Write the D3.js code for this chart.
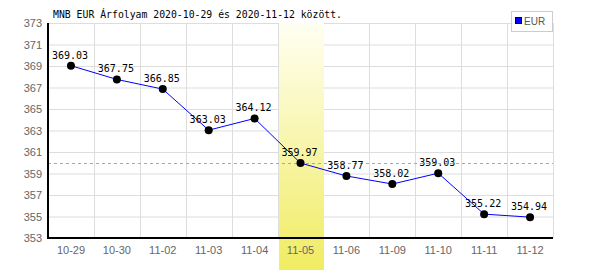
<!DOCTYPE html>
<html lang="hu">
<head>
<meta charset="UTF-8">
<script src="https://d3js.org/d3.v7.min.js"></script>
<style>
  body { margin: 0; background: #fff; }
  .tick text { font: 11px "Liberation Sans", sans-serif; fill: #666; }
  .lbl { font: 10px "DejaVu Sans Mono", monospace; fill: #000; }
  .title { font: 9.8px "DejaVu Sans Mono", monospace; fill: #000; }
</style>
</head>
<body>
<script>
// chart data
var dates = ["10-29", "10-30", "11-02", "11-03", "11-04", "11-05", "11-06", "11-09", "11-10", "11-11", "11-12"];
var rates = [369.03, 367.75, 366.85, 363.03, 364.12, 359.97, 358.77, 358.02, 359.03, 355.22, 354.94];
var yTicks = [353, 355, 357, 359, 361, 363, 365, 367, 369, 371, 373];
var avgLine = 360;
var highlight = "11-05";

var width = 600, height = 270;
var m = {left: 48, right: 47, top: 23, bottom: 32};

var svg = d3.select("body").append("svg")
    .attr("width", width)
    .attr("height", height);

var x = d3.scaleBand().domain(dates).range([m.left, width - m.right]);
var y = d3.scaleLinear().domain([353, 373]).range([height - m.bottom, m.top]);

var defs = svg.append("defs");
var grad = defs.append("linearGradient").attr("id", "hl")
    .attr("x1", 0).attr("y1", 0).attr("x2", 0).attr("y2", 1);
grad.append("stop").attr("offset", "0%").attr("stop-color", "#fffff2");
grad.append("stop").attr("offset", "100%").attr("stop-color", "#f0ec62");

// grid
svg.append("g").selectAll("line").data(yTicks).join("line")
    .attr("x1", m.left).attr("x2", width - m.right)
    .attr("y1", function(d) { return y(d) + 0.5; })
    .attr("y2", function(d) { return y(d) + 0.5; })
    .attr("stroke", "#ddd");
svg.append("g").selectAll("line").data(dates).join("line")
    .attr("x1", function(d) { return Math.round(x(d) + x.bandwidth()) + 0.5; })
    .attr("x2", function(d) { return Math.round(x(d) + x.bandwidth()) + 0.5; })
    .attr("y1", m.top).attr("y2", height - m.bottom)
    .attr("stroke", "#ddd");

// highlighted day
svg.append("rect")
    .attr("x", Math.round(x(highlight)) + 1)
    .attr("y", m.top)
    .attr("width", Math.round(x.bandwidth()) - 1)
    .attr("height", height - m.top)
    .attr("fill", "url(#hl)");

// average line
svg.append("line")
    .attr("x1", m.left).attr("x2", width - m.right)
    .attr("y1", Math.round(y(avgLine)) + 0.5).attr("y2", Math.round(y(avgLine)) + 0.5)
    .attr("stroke", "#a0a0e8").attr("stroke-dasharray", "3,3");

// axes
var yAxis = svg.append("g")
    .attr("transform", "translate(" + m.left + ",0)")
    .call(d3.axisLeft(y).tickValues(yTicks).tickSize(0).tickPadding(6).tickFormat(d3.format("d")));
yAxis.select(".domain").remove();
var xAxis = svg.append("g")
    .attr("transform", "translate(0," + (height - m.bottom) + ")")
    .call(d3.axisBottom(x).tickSize(0).tickPadding(8));
xAxis.select(".domain").remove();

svg.append("line")
    .attr("x1", m.left).attr("x2", m.left)
    .attr("y1", m.top).attr("y2", height - m.bottom + 1)
    .attr("stroke", "#000").attr("stroke-width", 2);
svg.append("line")
    .attr("x1", m.left).attr("x2", width - m.right)
    .attr("y1", height - m.bottom).attr("y2", height - m.bottom)
    .attr("stroke", "#000").attr("stroke-width", 2);

// series
var cx = function(d, i) { return x(dates[i]) + x.bandwidth() / 2; };
svg.append("path")
    .datum(rates)
    .attr("fill", "none")
    .attr("stroke", "#0000ff")
    .attr("d", d3.line().x(cx).y(function(d) { return y(d); }));

svg.append("g").selectAll("circle").data(rates).join("circle")
    .attr("cx", cx)
    .attr("cy", function(d) { return y(d); })
    .attr("r", 4)
    .attr("fill", "#000");

svg.append("g").selectAll("text").data(rates).join("text")
    .attr("class", "lbl")
    .attr("x", function(d, i) { return cx(d, i) - 1; })
    .attr("y", function(d) { return y(d) - 7; })
    .attr("text-anchor", "middle")
    .text(function(d) { return d.toFixed(2); });

// title
svg.append("text")
    .attr("class", "title")
    .attr("x", 53).attr("y", 18)
    .text("MNB EUR Árfolyam 2020-10-29 és 2020-11-12 között.");

// legend
var lg = svg.append("g").attr("transform", "translate(511,11)");
lg.append("rect").attr("x", 0.5).attr("y", 0.5).attr("width", 41).attr("height", 20)
    .attr("fill", "#fff").attr("stroke", "#ccc");
lg.append("rect").attr("x", 4.5).attr("y", 6.5).attr("width", 6).attr("height", 6)
    .attr("fill", "#0000ff").attr("stroke", "#000");
lg.append("text").attr("x", 13).attr("y", 14)
    .style("font", "10px 'Liberation Sans', sans-serif").attr("fill", "#555")
    .text("EUR");
</script>
</body>
</html>
